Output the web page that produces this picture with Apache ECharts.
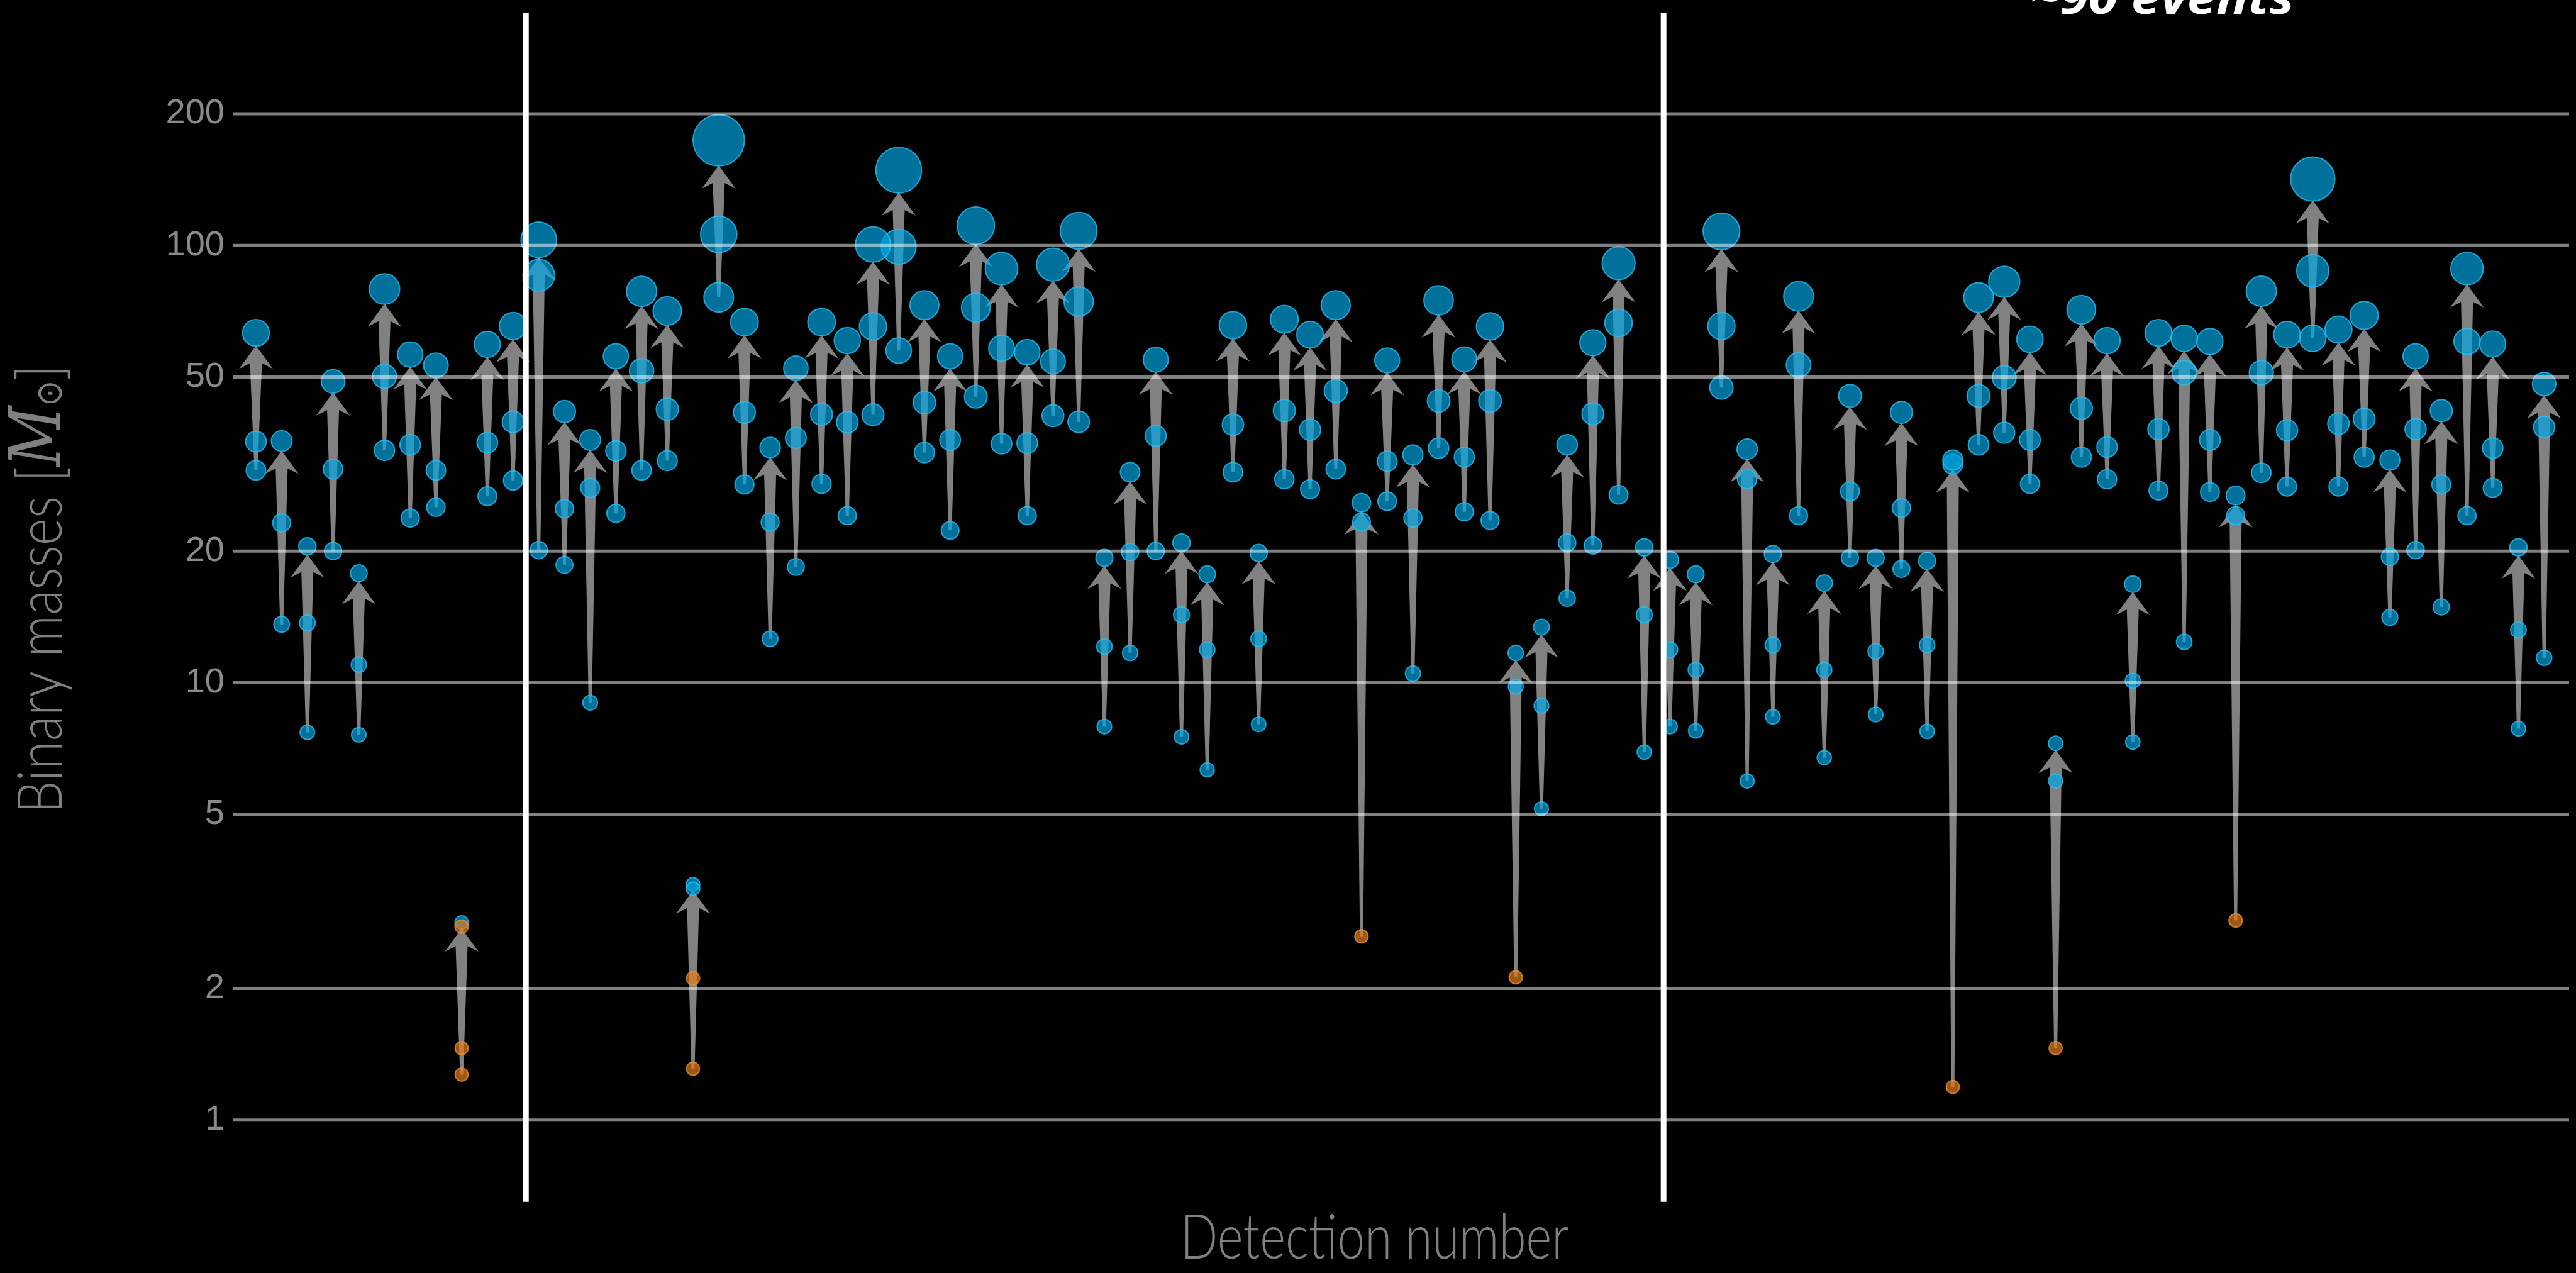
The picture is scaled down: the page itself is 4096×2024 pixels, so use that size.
<!DOCTYPE html>
<html>
<head>
<meta charset="utf-8">
<title>Binary masses by detection</title>
<script src="https://cdn.jsdelivr.net/npm/echarts@6/dist/echarts.min.js"></script>
<style>
  html, body { margin: 0; padding: 0; background: #000; }
  #chart { width: 4096px; height: 2024px; }
</style>
</head>
<body>
<div id="chart"></div>
<script>
// ---- Data: one entry per detection, in detection order (O1/O2, O3a, O3b) ----
const finalMass = [
  63.1, 35.7, 20.5, 48.9, 17.8, 79.5, 56.3, 53.2, 2.83, 59.4, 65.4,
  103, 41.7, 35.9, 55.8, 78.5, 70.8, 3.46, 174, 66.8, 34.5, 52.4, 66.8, 60.6, 100.5, 148.6,
  73.0, 55.8, 111, 88.5, 57.0, 90.4, 108, 19.3, 30.3, 54.8, 20.9, 17.7, 65.7, 19.8,
  67.8, 62.5, 73.0, 25.8, 54.6, 33.2, 74.9, 54.9, 65.3, 11.7, 13.4, 35.0, 59.9, 91.1, 20.4,
  19.1, 17.7, 107.7, 34.2, 19.7, 76.5, 16.9, 45.3, 19.3, 41.5, 19.0, 32.3, 76.0, 82.6, 61.0,
  7.27, 71.3, 60.6, 16.8, 63.1, 61.3, 60.3, 26.8, 78.6, 62.5, 141.9, 64.2, 69.2, 32.3, 55.8,
  41.9, 88.5, 59.5, 20.4, 48.2
];
const primaryMass = [
  35.6, 23.2, 13.7, 30.8, 11.0, 50.2, 35.0, 30.6, 1.46, 35.4, 39.5,
  85.5, 25.0, 27.9, 33.9, 51.7, 42.2, 2.11, 106, 41.5, 23.3, 36.3, 41.1, 39.4, 65.3, 99.3,
  43.7, 35.9, 72.1, 58.2, 35.3, 54.3, 74.4, 12.1, 19.9, 36.7, 14.3, 11.9, 38.9, 12.6,
  41.9, 37.9, 46.5, 23.3, 32.1, 23.8, 44.1, 32.8, 44.1, 9.8, 8.86, 20.9, 41.2, 66.5, 14.3,
  11.9, 10.7, 65.4, 29.2, 12.2, 53.3, 10.7, 27.4, 11.8, 25.1, 12.2, 31.6, 45.3, 49.9, 35.9,
  5.96, 42.4, 34.6, 10.1, 38.0, 51.2, 35.9, 24.1, 51.2, 37.8, 87.5, 39.1, 40.1, 19.4, 38.0,
  28.4, 60.3, 34.4, 13.2, 38.4
];
const secondaryMass = [
  30.6, 13.6, 7.7, 20.0, 7.6, 34.0, 23.8, 25.2, 1.27, 26.7, 29.0,
  20.1, 18.6, 9.0, 24.4, 30.6, 32.2, 1.31, 76.1, 28.4, 12.6, 18.4, 28.5, 24.1, 41.0, 57.5,
  33.6, 22.3, 45.1, 35.2, 24.1, 40.8, 39.5, 7.94, 11.7, 20.0, 7.52, 6.32, 30.3, 8.03,
  29.2, 27.7, 30.8, 2.63, 26.0, 10.5, 34.4, 24.6, 23.5, 2.12, 5.15, 15.6, 20.6, 26.9, 6.94,
  7.94, 7.76, 47.3, 5.96, 8.36, 24.1, 6.74, 19.3, 8.46, 18.2, 7.74, 1.19, 35.0, 37.3, 28.5,
  1.46, 32.8, 29.2, 7.32, 27.5, 12.4, 27.3, 2.86, 30.2, 28.1, 61.3, 28.1, 32.8, 14.1, 20.1,
  14.9, 24.1, 27.9, 7.85, 11.4
];
// Remnants of the two binary neutron star mergers, also marked as neutron stars
const nsRemnantDetection = [9, 18];
const nsRemnantMass = [2.77, 3.38];
// Observing-run boundaries (in detection number) and their vertical extent (in solar masses)
const runBreaks = [11.5, 55.75];
const runBreakSpan = [0.65, 340];
// Mass gridlines / tick labels
const tickValues = [1, 2, 5, 10, 20, 50, 100, 200];
const detections = finalMass.map((_, i) => i + 1);

// ---- Styling helpers ----
const NS_LIMIT = 3;
const BLUE = 'rgba(0,166,226,0.85)', BLUE_EDGE = 'rgba(40,196,250,0.95)';
const ORANGE = 'rgba(228,124,28,0.88)', ORANGE_EDGE = 'rgba(240,146,48,0.95)';
const dotSize = m => 20.3 + 0.353 * m;
const dotStyle = (m, forceBlue) => {
  const ns = !forceBlue && m < NS_LIMIT;
  return { color: ns ? ORANGE : BLUE, borderColor: ns ? ORANGE_EDGE : BLUE_EDGE, borderWidth: 2 };
};

const componentData = [];
detections.forEach((d, i) => {
  [secondaryMass[i], primaryMass[i]].forEach(m => {
    componentData.push({ value: [d, m], itemStyle: dotStyle(m, false) });
  });
});
const remnantData = detections.map((d, i) => ({ value: [d, finalMass[i]], itemStyle: dotStyle(finalMass[i], true) }));
const nsRemnantData = nsRemnantDetection.map((d, i) => ({ value: [d, nsRemnantMass[i]], itemStyle: dotStyle(nsRemnantMass[i], false) }));
const arrowData = detections.map((d, i) => [d, Math.min(primaryMass[i], secondaryMass[i]), finalMass[i]]);

// Tapered arrow from the lighter component up to the remnant
function renderArrow(params, api) {
  const x = api.value(0), lo = api.value(1), hi = api.value(2);
  const pBase = api.coord([x, lo]);
  const pTop = api.coord([x, hi]);
  const cx = pTop[0];
  const tipY = pTop[1] + dotSize(hi) / 2 - 1;
  const headLen = 37, headHalf = 27, notch = 9, shaftTop = 9.5, shaftBot = 2.5;
  const barbY = tipY + headLen;
  const joinY = barbY - notch;
  const baseY = pBase[1];
  return {
    type: 'polygon',
    shape: {
      points: [
        [cx, tipY], [cx + headHalf, barbY], [cx + shaftTop, joinY], [cx + shaftBot, baseY],
        [cx - shaftBot, baseY], [cx - shaftTop, joinY], [cx - headHalf, barbY]
      ]
    },
    style: { fill: 'rgba(140,140,140,0.92)' }
  };
}

// Horizontal mass gridlines with their labels
function renderGridline(params, api) {
  const cs = params.coordSys;
  const v = api.value(1);
  const y = api.coord([api.value(0), v])[1];
  return {
    type: 'group',
    children: [
      { type: 'rect', shape: { x: cs.x, y: y - 2.5, width: cs.width, height: 5 },
        style: { fill: 'rgba(255,255,255,0.5)' } },
      { type: 'text', x: cs.x - 14, y: y,
        style: { text: String(v), fill: '#8a8a8a', font: '56px "Liberation Sans", Arial, sans-serif',
                 align: 'right', verticalAlign: 'middle' } }
    ]
  };
}

// White separators between observing runs
function renderRunBreak(params, api) {
  const x = api.value(0);
  const top = api.coord([x, runBreakSpan[1]]);
  const bot = api.coord([x, runBreakSpan[0]]);
  return {
    type: 'rect',
    shape: { x: top[0] - 4.5, y: top[1], width: 9, height: bot[1] - top[1] },
    style: { fill: '#ffffff' }
  };
}

// Fit the condensed-looking titles to their widths
const measureCtx = document.createElement('canvas').getContext('2d');
function textWidth(text, font) { measureCtx.font = font; return measureCtx.measureText(text).width; }
const TITLE_FONT = '300 99px Lato, "Open Sans", sans-serif';
const titleScale = 618 / textWidth('Detection number', TITLE_FONT);
const BANNER_FONT = 'italic 700 72px "Open Sans", sans-serif';
const bannerScale = 373 / textWidth('90 events', BANNER_FONT);

const chart = echarts.init(document.getElementById('chart'), null, { renderer: 'canvas' });
chart.setOption({
  backgroundColor: '#000000',
  animation: false,
  grid: { left: 371, right: 11, top: 12, bottom: 34 },
  xAxis: { type: 'value', min: 0.12, max: 90.97, show: false },
  yAxis: { type: 'log', logBase: 10, min: 0.5, max: 350, show: false },
  graphic: [
    { type: 'text', x: 2186, y: 1969, scaleX: titleScale, silent: true,
      style: { text: 'Detection number', font: TITLE_FONT, fill: '#808080', align: 'center', verticalAlign: 'middle' } },
    { type: 'text', x: 66, y: 937, rotation: Math.PI / 2, scaleX: titleScale * 1.06, silent: true,
      style: {
        text: '{a|Binary masses [}{m|M}{s|⊙}{a|]}',
        font: TITLE_FONT, fill: '#808080', align: 'center', verticalAlign: 'middle',
        rich: {
          a: { font: TITLE_FONT, fill: '#808080' },
          m: { font: 'italic 400 112px "DejaVu Serif", "Liberation Serif", serif', fill: '#808080' },
          s: { font: '400 58px "DejaVu Sans", sans-serif', fill: '#808080', padding: [34, 0, 0, 0] }
        }
      } },
    { type: 'text', x: 3648, y: 1, scaleX: bannerScale, silent: true,
      style: { text: '~90 events', font: BANNER_FONT, fill: '#ffffff', align: 'right', verticalAlign: 'middle' } }
  ],
  series: [
    { name: 'Arrows', type: 'custom', renderItem: renderArrow, data: arrowData, z: 2, silent: true, clip: false,
      encode: { x: 0, y: [1, 2] } },
    { name: 'Components', type: 'scatter', data: componentData, z: 3, silent: true,
      symbol: 'circle', symbolSize: v => dotSize(v[1]) },
    { name: 'Remnants', type: 'scatter', data: remnantData, z: 4, silent: true,
      symbol: 'circle', symbolSize: v => dotSize(v[1]) },
    { name: 'Neutron-star remnants', type: 'scatter', data: nsRemnantData, z: 5, silent: true,
      symbol: 'circle', symbolSize: v => dotSize(v[1]) },
    { name: 'Gridlines', type: 'custom', renderItem: renderGridline, z: 6, silent: true, clip: false,
      data: tickValues.map(v => [detections[0], v]), encode: { x: 0, y: 1 } },
    { name: 'Run breaks', type: 'custom', renderItem: renderRunBreak, z: 7, silent: true, clip: false,
      data: runBreaks.map(x => [x, runBreakSpan[0]]), encode: { x: 0, y: 1 } }
  ]
});
</script>
</body>
</html>
